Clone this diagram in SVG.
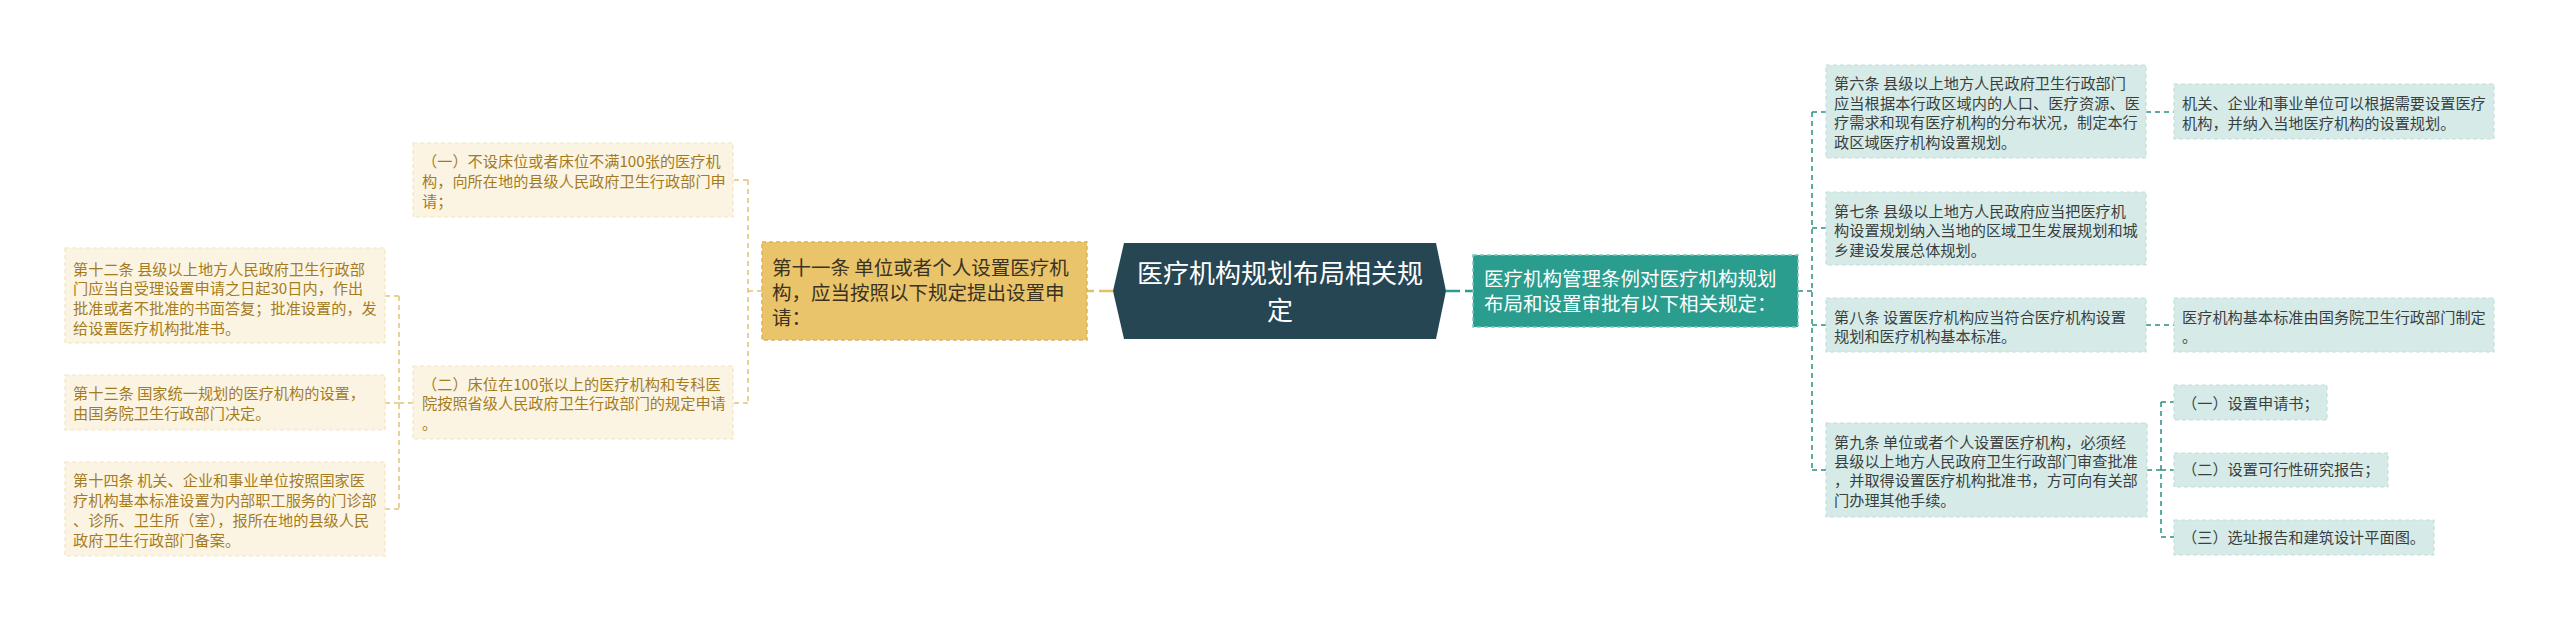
<svg xmlns="http://www.w3.org/2000/svg" width="2560" height="621" viewBox="0 0 2560 621">
<style>
  text { font-family: "Noto Sans CJK SC", "Noto Sans", sans-serif; }
  .cream { fill: #fcf4e3; stroke: #f3e4c2; stroke-width: 1.2; stroke-dasharray: 4 3; }
  .mint { fill: #d6ebe8; stroke: #c2e0dc; stroke-width: 1.2; stroke-dasharray: 4 3; }
  .yellow { fill: #e9c46a; stroke: #dcb459; stroke-width: 1.5; stroke-dasharray: 4 3; }
  .teal { fill: #2a9d8f; stroke: #7cc8bd; stroke-width: 1.5; stroke-dasharray: 4 3; }
  .center { fill: #264653; }
  .t-gold { font-size: 15.2px; fill: #a47c1f; }
  .t-grey { font-size: 15.2px; fill: #3a3f3f; }
  .t-yel { font-size: 19.5px; fill: #3b3220; }
  .t-teal { font-size: 19.5px; fill: #ffffff; }
  .t-center { font-size: 26px; fill: #ffffff; text-anchor: middle; }
  .c-gold { fill: none; stroke: #e2c47a; stroke-width: 1.5; stroke-dasharray: 5 4; }
  .c-teal { fill: none; stroke: #2a8f82; stroke-width: 1.5; stroke-dasharray: 5 4; }
  .m-gold { fill: none; stroke: #e2bf68; stroke-width: 2.5; stroke-dasharray: 14 5; }
  .m-teal { fill: none; stroke: #2a9d8f; stroke-width: 2.5; stroke-dasharray: 14 5; }
</style>
<rect x="0" y="0" width="2560" height="621" fill="#ffffff"/>

<g id="connectors">
  <path class="m-gold" d="M1113,291 H1087"/>
  <path class="m-teal" d="M1446,291 H1473"/>
  <path class="c-gold" d="M762,291 H748 M748,180 V403 M748,180 H733 M748,403 H733"/>
  <path class="c-gold" d="M413,403 H399 M399,296 V509 M399,296 H385 M399,403 H385 M399,509 H385"/>
  <path class="c-teal" d="M1798,291 H1812 M1812,112 V470 M1812,112 H1826 M1812,228 H1826 M1812,325 H1826 M1812,470 H1826"/>
  <path class="c-teal" d="M2146,112 H2174"/>
  <path class="c-teal" d="M2146,325 H2174"/>
  <path class="c-teal" d="M2147,470 H2161 M2161,402 V537 M2161,402 H2174 M2161,470 H2174 M2161,537 H2174"/>
</g>

<g id="root">
  <polygon class="center" points="1124,243 1436,243 1446,291 1436,339 1124,339 1113,291"/>
  <text class="t-center" x="1280" y="283">医疗机构规划布局相关规</text>
  <text class="t-center" x="1280" y="320">定</text>
</g>

<g id="art11">
  <rect class="yellow" x="762" y="242" width="325" height="98"/>
  <text class="t-yel" x="772" y="274.5">第十一条 单位或者个人设置医疗机</text>
  <text class="t-yel" x="772" y="299.5">构，应当按照以下规定提出设置申</text>
  <text class="t-yel" x="772" y="324.5">请：</text>
</g>

<g id="item1-left">
  <rect class="cream" x="413" y="143" width="320" height="74"/>
  <text class="t-gold" x="422" y="166.5">（一）不设床位或者床位不满100张的医疗机</text>
  <text class="t-gold" x="422" y="186.5">构，向所在地的县级人民政府卫生行政部门申</text>
  <text class="t-gold" x="422" y="206.5">请；</text>
</g>

<g id="item2-left">
  <rect class="cream" x="413" y="366" width="320" height="73"/>
  <text class="t-gold" x="422" y="389.5">（二）床位在100张以上的医疗机构和专科医</text>
  <text class="t-gold" x="422" y="409">院按照省级人民政府卫生行政部门的规定申请</text>
  <text class="t-gold" x="422" y="428.5">。</text>
</g>

<g id="art12">
  <rect class="cream" x="65" y="248" width="320" height="95"/>
  <text class="t-gold" x="73" y="274.5">第十二条 县级以上地方人民政府卫生行政部</text>
  <text class="t-gold" x="73" y="294">门应当自受理设置申请之日起30日内，作出</text>
  <text class="t-gold" x="73" y="314">批准或者不批准的书面答复；批准设置的，发</text>
  <text class="t-gold" x="73" y="333.5">给设置医疗机构批准书。</text>
</g>

<g id="art13">
  <rect class="cream" x="65" y="375" width="320" height="55"/>
  <text class="t-gold" x="73" y="398.5">第十三条 国家统一规划的医疗机构的设置，</text>
  <text class="t-gold" x="73" y="418.5">由国务院卫生行政部门决定。</text>
</g>

<g id="art14">
  <rect class="cream" x="65" y="462" width="320" height="94"/>
  <text class="t-gold" x="73" y="485.5">第十四条 机关、企业和事业单位按照国家医</text>
  <text class="t-gold" x="73" y="505.5">疗机构基本标准设置为内部职工服务的门诊部</text>
  <text class="t-gold" x="73" y="525.5">、诊所、卫生所（室），报所在地的县级人民</text>
  <text class="t-gold" x="73" y="545.5">政府卫生行政部门备案。</text>
</g>

<g id="regulation">
  <rect class="teal" x="1473" y="255" width="325" height="72"/>
  <text class="t-teal" x="1484" y="285.5">医疗机构管理条例对医疗机构规划</text>
  <text class="t-teal" x="1484" y="310.5">布局和设置审批有以下相关规定：</text>
</g>

<g id="art6">
  <rect class="mint" x="1826" y="65" width="320" height="93"/>
  <text class="t-grey" x="1834" y="88.5">第六条 县级以上地方人民政府卫生行政部门</text>
  <text class="t-grey" x="1834" y="108.5" textLength="306" lengthAdjust="spacing">应当根据本行政区域内的人口、医疗资源、医</text>
  <text class="t-grey" x="1834" y="128">疗需求和现有医疗机构的分布状况，制定本行</text>
  <text class="t-grey" x="1834" y="148">政区域医疗机构设置规划。</text>
</g>

<g id="art6-note">
  <rect class="mint" x="2174" y="84" width="320" height="55"/>
  <text class="t-grey" x="2182" y="108.5">机关、企业和事业单位可以根据需要设置医疗</text>
  <text class="t-grey" x="2182" y="128.5">机构，并纳入当地医疗机构的设置规划。</text>
</g>

<g id="art7">
  <rect class="mint" x="1826" y="192" width="320" height="73"/>
  <text class="t-grey" x="1834" y="216.5">第七条 县级以上地方人民政府应当把医疗机</text>
  <text class="t-grey" x="1834" y="236">构设置规划纳入当地的区域卫生发展规划和城</text>
  <text class="t-grey" x="1834" y="255.5">乡建设发展总体规划。</text>
</g>

<g id="art8">
  <rect class="mint" x="1826" y="298" width="320" height="54"/>
  <text class="t-grey" x="1834" y="322.5">第八条 设置医疗机构应当符合医疗机构设置</text>
  <text class="t-grey" x="1834" y="341.5">规划和医疗机构基本标准。</text>
</g>

<g id="art8-note">
  <rect class="mint" x="2174" y="298" width="320" height="54"/>
  <text class="t-grey" x="2182" y="322.5">医疗机构基本标准由国务院卫生行政部门制定</text>
  <text class="t-grey" x="2182" y="341.5">。</text>
</g>

<g id="art9">
  <rect class="mint" x="1826" y="423" width="321" height="94"/>
  <text class="t-grey" x="1834" y="447.5">第九条 单位或者个人设置医疗机构，必须经</text>
  <text class="t-grey" x="1834" y="466.5">县级以上地方人民政府卫生行政部门审查批准</text>
  <text class="t-grey" x="1834" y="486">，并取得设置医疗机构批准书，方可向有关部</text>
  <text class="t-grey" x="1834" y="505.5">门办理其他手续。</text>
</g>

<g id="art9-item1">
  <rect class="mint" x="2174" y="385" width="153" height="35"/>
  <text class="t-grey" x="2182" y="408.5">（一）设置申请书；</text>
</g>

<g id="art9-item2">
  <rect class="mint" x="2174" y="453" width="214" height="34"/>
  <text class="t-grey" x="2182" y="475">（二）设置可行性研究报告；</text>
</g>

<g id="art9-item3">
  <rect class="mint" x="2174" y="520" width="260" height="35"/>
  <text class="t-grey" x="2182" y="542.5">（三）选址报告和建筑设计平面图。</text>
</g>
</svg>
